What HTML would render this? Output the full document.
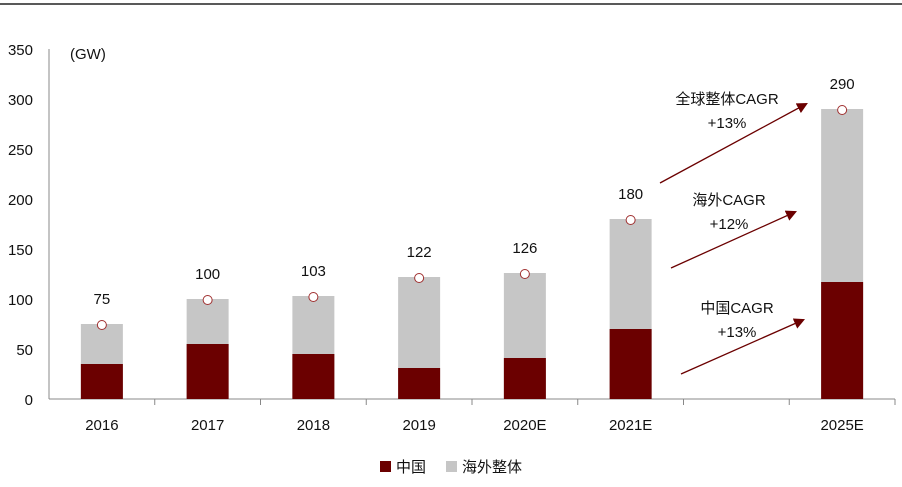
<!DOCTYPE html>
<html><head><meta charset="utf-8"><style>
body{margin:0;background:#fff;}
svg{display:block;font-family:"Liberation Sans","Noto Sans CJK SC",sans-serif;}
</style></head><body>
<svg id="c" width="902" height="487" viewBox="0 0 902 487">
<line x1="0" y1="4" x2="902" y2="4" stroke="#222" stroke-width="1.5"/>
<text x="70" y="59" font-size="15" fill="#111">(GW)</text>
<g id="axes"></g><g id="bars"></g>
<defs><marker id="ah" viewBox="0 0 10 10" refX="8" refY="5" markerWidth="11" markerHeight="11" markerUnits="userSpaceOnUse" orient="auto"><path d="M0,0 L10,5 L0,10 z" fill="#6b0000"/></marker></defs>
<g>
<line x1="660" y1="183" x2="806" y2="104" stroke="#6b0000" stroke-width="1.3" marker-end="url(#ah)"/>
<text x="727" y="104" font-size="15" text-anchor="middle" fill="#111">全球整体CAGR</text>
<text x="727" y="128" font-size="15" text-anchor="middle" fill="#111">+13%</text>
<line x1="671" y1="268" x2="795" y2="212" stroke="#6b0000" stroke-width="1.3" marker-end="url(#ah)"/>
<text x="729" y="205" font-size="15" text-anchor="middle" fill="#111">海外CAGR</text>
<text x="729" y="229" font-size="15" text-anchor="middle" fill="#111">+12%</text>
<line x1="681" y1="374" x2="803" y2="320" stroke="#6b0000" stroke-width="1.3" marker-end="url(#ah)"/>
<text x="737" y="313" font-size="15" text-anchor="middle" fill="#111">中国CAGR</text>
<text x="737" y="337" font-size="15" text-anchor="middle" fill="#111">+13%</text>
</g>
<g>
<rect x="380" y="461" width="11" height="11" fill="#6b0000"/>
<text x="396" y="472" font-size="15" fill="#111">中国</text>
<rect x="446" y="461" width="11" height="11" fill="#c6c6c6"/>
<text x="462" y="472" font-size="15" fill="#111">海外整体</text>
</g>
</svg>
<script>
const categories=["2016","2017","2018","2019","2020E","2021E","","2025E"];
const chinaValues=[35,55,45,31,41,70,null,117];
const totalValues=[75,100,103,122,126,180,null,290];
const yTicks=[0,50,100,150,200,250,300,350];
const NS="http://www.w3.org/2000/svg";
const x0=49,x1=895,y0=399,yTop=49,yMax=350;
const slot=(x1-x0)/categories.length;
const y=v=>y0-(v/yMax)*(y0-yTop);
const xc=i=>x0+slot*(i+0.5);
function mk(t,a,p){const e=document.createElementNS(NS,t);for(const k in a)e.setAttribute(k,a[k]);p.appendChild(e);return e;}
const ax=document.getElementById('axes'),bg=document.getElementById('bars');
const ya=mk('line',{x1:x0,y1:yTop,x2:x0,y2:y0,stroke:'#888'},ax);


const xa=mk('line',{x1:x0,y1:y0,x2:x1,y2:y0,stroke:'#888'},ax);


yTicks.forEach(v=>{const t=mk('text',{x:33,y:y(v)+6,'font-size':15,'text-anchor':'end',fill:'#111'},ax);t.textContent=v;

});
for(let i=1;i<=categories.length;i++){const l=mk('line',{x1:x0+slot*i,y1:y0,x2:x0+slot*i,y2:y0+6,stroke:'#888'},ax);

}
categories.forEach((c,i)=>{
 const t=mk('text',{x:xc(i),y:430,'font-size':15,'text-anchor':'middle',fill:'#111'},ax);t.textContent=c;
 
 
 if(totalValues[i]==null)return;
 const w=42,bx=xc(i)-w/2;
 const g=mk('rect',{x:bx,y:y(totalValues[i]),width:w,height:y0-y(totalValues[i]),fill:'#c6c6c6'},bg);
 
 
 const r=mk('rect',{x:bx,y:y(chinaValues[i]),width:w,height:y0-y(chinaValues[i]),fill:'#6b0000'},bg);
 
 
 const p=mk('circle',{cx:xc(i),cy:y(totalValues[i])+1,r:4.5,fill:'#fff',stroke:'#a03030','stroke-width':1},bg);
 
 
 const v=mk('text',{x:xc(i),y:y(totalValues[i])-20,'font-size':15,'text-anchor':'middle',fill:'#111'},bg);v.textContent=totalValues[i];
 
 
});
</script>
</body></html>
